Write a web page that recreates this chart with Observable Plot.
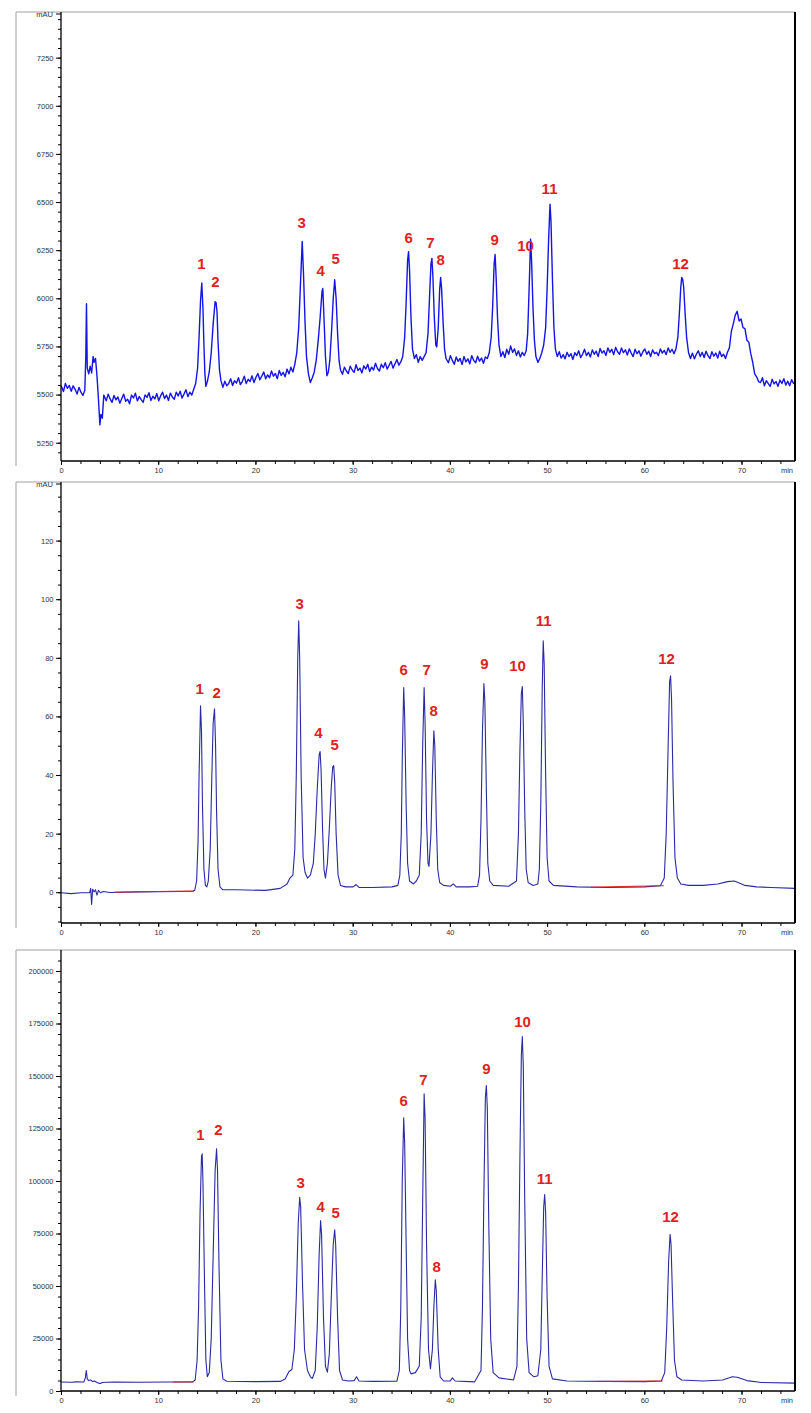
<!DOCTYPE html>
<html><head><meta charset="utf-8">
<script src="https://cdn.jsdelivr.net/npm/d3@7"></script>
<script src="https://cdn.jsdelivr.net/npm/@observablehq/plot@0.6"></script>
<style>
body{margin:0;background:#fff;width:811px;height:1413px;overflow:hidden;font-family:"Liberation Sans",Arial,sans-serif}
#c svg{display:block}
</style>
</head><body><div id="c"></div>
<script>
// ---------- data ----------
const peakIds = ["1","2","3","4","5","6","7","8","9","10","11","12"];
const xTicks = [0,10,20,30,40,50,60,70];

// Panel 1 (mAU, noisy baseline)
const yTicks1 = [5250,5500,5750,6000,6250,6500,6750,7000,7250];
const trace1 = [[0,5545],[0.2,5518],[0.4,5560],[0.6,5535],[0.8,5550],[1.0,5520],[1.2,5548],[1.4,5530],[1.6,5505],[1.8,5540],[2.0,5515],[2.2,5498],[2.4,5525],
[2.5,5700],[2.57,5975],[2.65,5640],[2.8,5610],[2.95,5650],[3.1,5615],[3.25,5700],[3.35,5670],[3.5,5690],[3.65,5600],[3.8,5480],[3.95,5345],[4.05,5400],[4.2,5380],[4.35,5500],
[4.6,5470],[4.8,5505],[5.0,5480],[5.2,5462],[5.4,5498],[5.6,5475],[5.8,5490],[6.0,5458],[6.2,5482],[6.4,5505],[6.6,5468],[6.8,5478],[7.0,5455],[7.2,5500],[7.4,5485],[7.6,5510],[7.8,5470],[8.0,5492],[8.2,5476],[8.4,5462],[8.6,5501],[8.8,5488],[9.0,5512],[9.2,5472],[9.4,5494],[9.6,5480],[9.8,5508],[10.0,5470],[10.2,5496],[10.4,5515],[10.6,5482],[10.8,5500],[11.0,5472],[11.2,5510],[11.4,5490],[11.6,5478],[11.8,5515],[12.0,5495],[12.2,5520],[12.4,5485],[12.6,5505],[12.8,5528],[13.0,5492],[13.2,5515],[13.4,5500],[13.6,5530],
[13.8,5560],[14.0,5640],[14.15,5800],[14.3,5990],[14.43,6082],[14.55,5950],[14.65,5760],[14.75,5610],[14.85,5545],[15.0,5570],[15.2,5620],[15.4,5720],[15.6,5870],[15.8,5985],[15.9,5980],[16.0,5930],[16.1,5780],[16.25,5630],[16.4,5575],[16.6,5540],
[16.8,5572],[17.0,5548],[17.2,5560],[17.4,5585],[17.6,5550],[17.8,5575],[18.0,5562],[18.2,5590],[18.4,5555],[18.6,5570],[18.8,5598],[19.0,5560],[19.2,5582],[19.4,5570],[19.6,5600],[19.8,5565],[20.0,5592],[20.2,5612],[20.4,5580],[20.6,5598],[20.8,5620],[21.0,5585],[21.2,5605],[21.4,5590],[21.6,5625],[21.8,5598],[22.0,5612],[22.2,5585],[22.4,5628],[22.6,5602],[22.8,5618],[23.0,5595],[23.2,5635],[23.4,5610],[23.6,5645],[23.8,5620],
[24.0,5660],[24.2,5720],[24.4,5850],[24.6,6100],[24.76,6298],[24.9,6120],[25.05,5880],[25.2,5700],[25.4,5610],[25.6,5565],[25.8,5590],[26.0,5620],[26.2,5680],[26.4,5780],[26.6,5900],[26.8,6040],[26.88,6054],[27.0,5900],[27.15,5700],[27.3,5600],[27.45,5620],[27.6,5680],[27.8,5850],[27.95,6000],[28.1,6099],[28.25,6000],[28.4,5820],[28.55,5680],[28.7,5630],
[28.9,5608],[29.1,5645],[29.3,5625],[29.5,5612],[29.7,5650],[29.9,5630],[30.1,5618],[30.3,5658],[30.5,5628],[30.7,5640],[30.9,5615],[31.1,5652],[31.3,5635],[31.5,5660],[31.7,5622],[31.9,5645],[32.1,5630],[32.3,5665],[32.5,5638],[32.7,5625],[32.9,5660],[33.1,5642],[33.3,5668],[33.5,5635],[33.7,5655],[33.9,5675],[34.1,5640],[34.3,5662],[34.5,5685],[34.7,5655],[34.9,5672],
[35.1,5700],[35.3,5800],[35.45,5980],[35.6,6200],[35.7,6245],[35.8,6150],[35.95,5900],[36.1,5740],[36.3,5690],[36.5,5710],[36.7,5670],[36.9,5700],[37.1,5680],[37.3,5700],[37.5,5720],[37.7,5820],[37.85,6000],[38.0,6180],[38.1,6210],[38.2,6120],[38.35,5900],[38.5,5760],[38.6,5750],[38.75,5850],[38.9,6050],[39.0,6111],[39.1,6050],[39.25,5880],[39.4,5740],[39.55,5690],
[39.8,5668],[40.0,5705],[40.2,5680],[40.4,5660],[40.6,5698],[40.8,5675],[41.0,5690],[41.2,5658],[41.4,5700],[41.6,5672],[41.8,5688],[42.0,5662],[42.2,5705],[42.4,5680],[42.6,5668],[42.8,5702],[43.0,5676],[43.2,5692],[43.4,5665],[43.6,5698],[43.8,5690],
[44.0,5720],[44.2,5800],[44.35,5960],[44.5,6180],[44.6,6230],[44.7,6120],[44.85,5900],[45.0,5760],[45.2,5700],
[45.4,5725],[45.6,5695],[45.8,5738],[46.0,5712],[46.2,5755],[46.4,5722],[46.6,5740],[46.8,5705],[47.0,5730],[47.2,5698],[47.4,5722],[47.6,5705],[47.8,5730],
[47.95,5820],[48.1,6050],[48.25,6310],[48.35,6200],[48.5,5950],[48.65,5780],[48.8,5700],[49.0,5670],[49.2,5690],[49.4,5720],[49.6,5760],[49.8,5850],[49.95,6050],[50.1,6300],[50.25,6492],[50.35,6400],[50.5,6100],[50.65,5850],[50.8,5740],[51.0,5700],
[51.2,5725],[51.4,5692],[51.6,5710],[51.8,5688],[52.0,5722],[52.2,5700],[52.4,5715],[52.6,5685],[52.8,5720],[53.0,5705],[53.2,5730],[53.4,5695],[53.6,5712],[53.8,5738],[54.0,5705],[54.2,5722],[54.4,5698],[54.6,5735],[54.8,5712],[55.0,5728],[55.2,5700],[55.4,5742],[55.6,5718],[55.8,5730],[56.0,5705],[56.2,5745],[56.4,5722],[56.6,5738],[56.8,5710],[57.0,5748],[57.2,5725],[57.4,5712],[57.6,5745],[57.8,5720],[58.0,5735],[58.2,5708],[58.4,5740],[58.6,5718],[58.8,5700],[59.0,5738],[59.2,5715],[59.4,5730],[59.6,5702],[59.8,5725],[60.0,5740],[60.2,5712],[60.4,5728],[60.6,5700],[60.8,5735],[61.0,5715],[61.2,5722],[61.4,5705],[61.6,5740],[61.8,5718],[62.0,5732],[62.2,5710],[62.4,5745],[62.6,5722],[62.8,5738],[63.0,5715],[63.2,5740],
[63.4,5800],[63.55,5920],[63.7,6060],[63.8,6111],[63.9,6100],[64.0,6060],[64.15,5920],[64.3,5800],[64.5,5720],[64.7,5690],
[64.9,5718],[65.1,5688],[65.3,5712],[65.5,5730],[65.7,5700],[65.9,5722],[66.1,5695],[66.3,5728],[66.5,5705],[66.7,5690],[66.9,5725],[67.1,5702],[67.3,5718],[67.5,5692],[67.7,5728],[67.9,5700],[68.1,5712],[68.3,5690],[68.5,5722],
[68.7,5745],[68.9,5830],[69.1,5870],[69.3,5915],[69.5,5935],[69.7,5885],[69.9,5895],[70.1,5850],[70.3,5845],[70.5,5785],[70.7,5775],[70.9,5715],[71.1,5670],[71.3,5610],[71.5,5595],[71.7,5570],
[71.9,5565],[72.1,5590],[72.3,5548],[72.5,5575],[72.7,5560],[72.9,5545],[73.1,5582],[73.3,5558],[73.5,5570],[73.7,5545],[73.9,5578],[74.1,5560],[74.3,5585],[74.5,5552],[74.7,5572],[74.9,5548],[75.1,5580],[75.3,5560],[75.5,5570]];
const labelT1 = [14.4,15.84,24.7,26.65,28.2,35.7,37.96,38.99,44.55,47.74,50.2,63.68];
const labelV1 = [6182,6084,6395,6146,6208,6317,6291,6198,6307,6275,6571,6182];

// Panel 2 (mAU)
const yTicks2 = [0,20,40,60,80,100,120];
const trace2 = [[0,0],[1,-0.3],[2,0],[2.9,0],[3.0,1.5],[3.1,-4],[3.2,1.2],[3.35,0.3],[3.5,1],[3.65,-0.8],[3.8,0.8],[4.0,0],[4.3,0.4],[5,0.1],[8,0.3],[12,0.4],[13.5,0.5],
[13.7,0.8],[13.9,4],[14.05,18],[14.15,40],[14.3,63.8],[14.4,55],[14.5,30],[14.65,8],[14.8,2.5],[14.95,2],
[15.1,4],[15.3,15],[15.45,38],[15.6,58],[15.74,62.8],[15.85,50],[15.95,28],[16.1,8],[16.3,2],[16.6,1],
[18,1],[21,0.8],[22.5,1.5],[23.2,3],[23.5,5],[23.8,6],
[24.0,15],[24.15,40],[24.3,80],[24.4,92.8],[24.5,80],[24.65,40],[24.85,12],[25.05,7],[25.3,5],[25.6,6],
[25.9,10],[26.1,20],[26.3,35],[26.5,47],[26.6,48.2],[26.7,42],[26.85,22],[27.0,8],[27.15,5],
[27.35,10],[27.55,22],[27.75,36],[27.9,43],[28.0,43.4],[28.1,38],[28.25,20],[28.45,6],[28.7,2.5],[29.2,2],
[30,2],[30.3,2.8],[30.6,1.8],[32,1.8],[34,2],[34.6,2.5],
[34.8,6],[34.95,20],[35.05,45],[35.2,70],[35.3,60],[35.45,30],[35.6,10],[35.8,4],[36.2,3],[36.5,4],[36.8,6],
[37.0,20],[37.15,50],[37.3,70],[37.4,58],[37.55,25],[37.7,10],[37.8,9],
[38.0,20],[38.15,40],[38.3,55.3],[38.4,50],[38.55,25],[38.7,8],[38.9,3.5],[39.3,2.5],[40.0,2.2],[40.3,3],[40.6,2],[42,2],[42.8,2.2],
[43.0,6],[43.15,25],[43.3,55],[43.45,71.4],[43.55,65],[43.7,35],[43.85,10],[44.05,4],[44.4,2.5],[46,2.2],
[46.8,4],[47.0,20],[47.15,48],[47.3,68],[47.4,70.4],[47.5,58],[47.65,28],[47.8,8],[48.0,3.5],[48.5,2.5],[49.0,3],
[49.15,8],[49.3,30],[49.45,70],[49.55,86],[49.65,78],[49.8,40],[49.95,12],[50.15,4],[50.6,2.5],[53,2],[56,1.8],[60,2],[61.6,2.4],
[62.0,5],[62.2,20],[62.4,50],[62.55,72],[62.65,74],[62.75,66],[62.9,38],[63.1,12],[63.35,5],[63.7,3],[64.5,2.5],[66,2.5],[67.5,3],[68.5,3.8],[69.2,4],[69.6,3.5],[70.3,2.5],[71.5,2],[73,1.8],[75.5,1.5]];
const red2a = [[5.5,0.2],[13.6,0.6]];
const red2b = [[54.5,1.9],[61.9,2.4]];
const labelT2 = [14.2,15.95,24.5,26.44,28.09,35.2,37.55,38.27,43.5,46.91,49.6,62.24];
const labelV2 = [69.6,68.2,98.6,54.3,50.2,76.1,75.8,62.1,78.1,77.4,92.8,79.8];

// Panel 3 (counts)
const yTicks3 = [0,25000,50000,75000,100000,125000,150000,175000,200000];
const trace3 = [[0,4500],[1,4400],[1.5,4600],[2.3,4500],[2.45,6500],[2.55,10000],[2.65,6000],[2.8,5200],[3.0,5500],[3.2,4700],[3.4,5000],[3.6,4400],[3.8,4000],[4.0,3800],[4.2,4300],[4.6,4400],[5.5,4500],[8,4400],[11,4500],[13.5,4600],
[13.75,5500],[13.95,15000],[14.1,40000],[14.25,85000],[14.4,112000],[14.47,113200],[14.55,100000],[14.7,55000],[14.85,15000],[15.0,7000],
[15.2,9000],[15.4,25000],[15.6,65000],[15.8,105000],[15.95,115600],[16.05,105000],[16.2,60000],[16.4,15000],[16.6,6000],[17,4900],
[20,4700],[22.5,4800],[23.0,6000],[23.4,9500],[23.7,10500],
[23.95,20000],[24.15,45000],[24.35,80000],[24.5,92500],[24.6,88000],[24.8,50000],[25.0,20000],[25.3,10000],[25.6,7000],[25.8,6200],
[26.1,10000],[26.3,30000],[26.5,65000],[26.65,81400],[26.75,75000],[26.95,35000],[27.15,12000],[27.35,9200],
[27.55,18000],[27.75,45000],[27.95,70000],[28.1,77000],[28.2,70000],[28.4,35000],[28.6,10000],[28.9,5500],[29.5,5000],[30.1,5200],[30.35,7000],[30.6,5000],[32,4800],[34.5,4900],
[34.75,10000],[34.9,40000],[35.05,100000],[35.2,130300],[35.3,118000],[35.45,70000],[35.6,25000],[35.8,10000],[35.95,8400],[36.4,9000],[36.8,12000],
[37.0,35000],[37.15,90000],[37.3,141800],[37.4,130000],[37.55,70000],[37.75,20000],[37.95,10800],
[38.15,20000],[38.3,40000],[38.45,53200],[38.55,48000],[38.75,20000],[38.95,7000],[39.3,5000],[40.0,5000],[40.2,6500],[40.5,5000],[42.5,4600],
[43.15,10000],[43.3,40000],[43.45,95000],[43.6,140000],[43.7,145700],[43.8,135000],[43.95,80000],[44.15,25000],[44.4,9000],[45,6500],[46.5,5500],
[46.85,12000],[47.0,50000],[47.15,110000],[47.3,160000],[47.4,169000],[47.5,155000],[47.65,90000],[47.85,25000],[48.1,9000],[48.6,7000],[49.0,7500],
[49.3,20000],[49.45,55000],[49.6,88000],[49.7,93800],[49.8,85000],[49.95,45000],[50.15,12000],[50.5,6000],[52,5000],[56,4800],[60,4700],[61.7,5000],
[62.05,9000],[62.25,30000],[62.45,62000],[62.6,74800],[62.7,70000],[62.85,45000],[63.05,15000],[63.3,7000],[63.8,5500],[66,5000],[68,5500],[69,7000],[69.5,6800],[70.5,5200],[72,4300],[75.5,4000]];
const red3a = [[11.5,4500],[13.6,4600]];
const red3b = [[55,4800],[61.8,5000]];
const labelT3 = [14.3,16.15,24.6,26.65,28.2,35.2,37.24,38.58,43.72,47.43,49.69,62.65];
const labelV3 = [121900,124300,99000,87600,84800,138100,148100,59000,153300,175700,101000,82900];

// ---------- drawing ----------
const W = 811, ML = 61, MR = 16, FONT = "Liberation Sans, Arial, sans-serif";

function panel({height, mt, mb, ydom, yTicks, yMinorStep, trace, color, sw, reds, labelT, labelV, yLabel}) {
  const yMinor = d3.range(Math.ceil(ydom[0]/yMinorStep)*yMinorStep, ydom[1], yMinorStep);
  const labels = peakIds.map((id,i)=>({id, t: labelT[i], v: labelV[i]}));
  const marks = [
    Plot.axisY(yMinor, {tickSize: 3, text: null, stroke: "#000", label: null}),
    Plot.axisY(yTicks, {tickSize: 5, tickPadding: 3, fontSize: 7.5, fill: "#333", tickFormat: d=>String(d), stroke: "#000", label: null}),
    Plot.axisX(d3.range(0, 76, 2), {tickSize: 3, text: null, stroke: "#000", label: null}),
    Plot.axisX(xTicks, {tickSize: 4, tickPadding: 2, fontSize: 7.5, fill: "#333", stroke: "#000", label: null}),
    Plot.line(trace, {x: d=>d[0], y: d=>d[1], stroke: color, strokeWidth: sw, curve: "linear"}),
    ...reds.map(r => Plot.line(r, {x: d=>d[0], y: d=>d[1], stroke: "#e0201c", strokeWidth: 1})),
    Plot.text(labels, {x: "t", y: "v", text: "id", fill: "#e3211c", fontWeight: "bold", fontSize: 15, fontFamily: FONT})
  ];
  const chart = Plot.plot({
    width: W, height, marginLeft: ML, marginRight: MR, marginTop: mt, marginBottom: mb,
    style: {fontFamily: FONT, background: "#fff"},
    x: {domain: [0, 75.5], axis: null, label: null},
    y: {domain: ydom, axis: null, label: null},
    marks
  });
  const svg = d3.select(chart);
  const top = mt, bot = height - mb, right = W - MR;
  svg.append("line").attr("x1",16).attr("x2",16).attr("y1",top).attr("y2",bot+5).attr("stroke","#a0a0a0").attr("stroke-width",1);
  svg.append("line").attr("x1",16).attr("x2",right).attr("y1",top).attr("y2",top).attr("stroke","#a0a0a0").attr("stroke-width",1);
  svg.append("line").attr("x1",right).attr("x2",right).attr("y1",top).attr("y2",bot).attr("stroke","#000").attr("stroke-width",2);
  svg.append("line").attr("x1",ML).attr("x2",ML).attr("y1",top).attr("y2",bot).attr("stroke","#000").attr("stroke-width",1.3);
  svg.append("line").attr("x1",ML).attr("x2",right).attr("y1",bot).attr("y2",bot).attr("stroke","#000").attr("stroke-width",1.3);
  svg.append("text").attr("x", right-2).attr("y", bot+12).attr("text-anchor","end").attr("font-size",7.5).attr("fill","#333").attr("font-family",FONT).text("min");
  if (yLabel) {
    svg.append("line").attr("x1",ML-5).attr("x2",ML).attr("y1",top+2).attr("y2",top+2).attr("stroke","#000");
    svg.append("text").attr("x", ML-8).attr("y", top+4.5).attr("text-anchor","end").attr("font-size",7.5).attr("fill","#333").attr("font-family",FONT).text(yLabel);
  }
  return chart;
}

const c = document.getElementById("c");
c.append(panel({height: 476, mt: 12, mb: 15, ydom: [5155, 7487], yTicks: yTicks1, yMinorStep: 50, trace: trace1, color: "#1414e6", sw: 1.4, reds: [], labelT: labelT1, labelV: labelV1, yLabel: "mAU"}));
c.append(panel({height: 460, mt: 6, mb: 13, ydom: [-10.5, 140], yTicks: yTicks2, yMinorStep: 5, trace: trace2, color: "#2a2aa6", sw: 1.1, reds: [red2a, red2b], labelT: labelT2, labelV: labelV2, yLabel: "mAU"}));
c.append(panel({height: 477, mt: 14, mb: 22, ydom: [0, 210000], yTicks: yTicks3, yMinorStep: 5000, trace: trace3, color: "#2a2aa6", sw: 1.1, reds: [red3a, red3b], labelT: labelT3, labelV: labelV3, yLabel: null}));
</script>
</body></html>
